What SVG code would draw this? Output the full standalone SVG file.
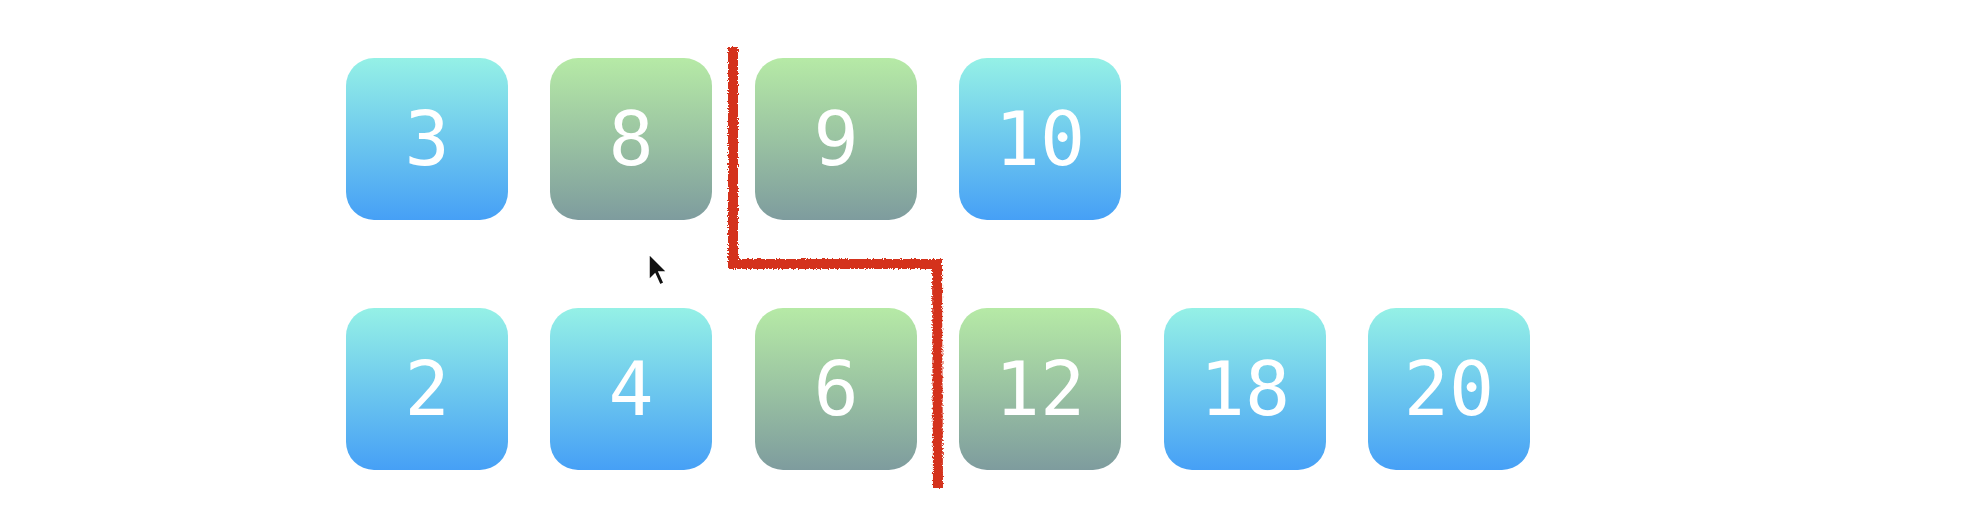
<svg xmlns="http://www.w3.org/2000/svg" width="1966" height="520" viewBox="0 0 1966 520">
<defs>
<linearGradient id="gb" x1="0" y1="0" x2="0" y2="1">
<stop offset="0" stop-color="#95f1e6"/>
<stop offset="1" stop-color="#46a0f6"/>
</linearGradient>
<linearGradient id="gg" x1="0" y1="0" x2="0" y2="1">
<stop offset="0" stop-color="#b6eaa6"/>
<stop offset="1" stop-color="#7e9c9e"/>
</linearGradient>
<filter id="rough" x="-10%" y="-10%" width="120%" height="120%">
<feTurbulence type="fractalNoise" baseFrequency="0.6" numOctaves="2" seed="3"/>
<feDisplacementMap in="SourceGraphic" scale="4" xChannelSelector="R" yChannelSelector="G"/>
</filter>
</defs>
<style>
.box{rx:28px;ry:28px}
.blue{fill:url(#gb)}
.green{fill:url(#gg)}
.lbl{font-family:"DejaVu Sans Mono","Liberation Mono",monospace;font-size:75px;fill:#ffffff;text-anchor:middle}
.cut{fill:none;stroke:#d4321f;stroke-width:10;stroke-linejoin:miter}
</style>
<rect width="1966" height="520" fill="#ffffff"/>
<g id="n3"><rect class="box blue" x="346" y="58" width="162" height="162"/><text class="lbl" x="427" y="165">3</text></g>
<g id="n8"><rect class="box green" x="550" y="58" width="162" height="162"/><text class="lbl" x="631" y="165">8</text></g>
<g id="n9"><rect class="box green" x="755" y="58" width="162" height="162"/><text class="lbl" x="836" y="165">9</text></g>
<g id="n10"><rect class="box blue" x="959" y="58" width="162" height="162"/><text class="lbl" x="1040" y="165">10</text></g>
<g id="n2"><rect class="box blue" x="346" y="308" width="162" height="162"/><text class="lbl" x="427" y="415">2</text></g>
<g id="n4"><rect class="box blue" x="550" y="308" width="162" height="162"/><text class="lbl" x="631" y="415">4</text></g>
<g id="n6"><rect class="box green" x="755" y="308" width="162" height="162"/><text class="lbl" x="836" y="415">6</text></g>
<g id="n12"><rect class="box green" x="959" y="308" width="162" height="162"/><text class="lbl" x="1040" y="415">12</text></g>
<g id="n18"><rect class="box blue" x="1164" y="308" width="162" height="162"/><text class="lbl" x="1245" y="415">18</text></g>
<g id="n20"><rect class="box blue" x="1368" y="308" width="162" height="162"/><text class="lbl" x="1449" y="415">20</text></g>
<g id="connectors">
<path class="cut" filter="url(#rough)" d="M733 47 L733 264 L937 264 L938 488"/>
</g>
<path d="M649 254 L649 280 L655 274 L660 285 L664 283 L659 272 L667 272 Z" fill="#111" stroke="#ffffff" stroke-width="1.5"/>
</svg>
